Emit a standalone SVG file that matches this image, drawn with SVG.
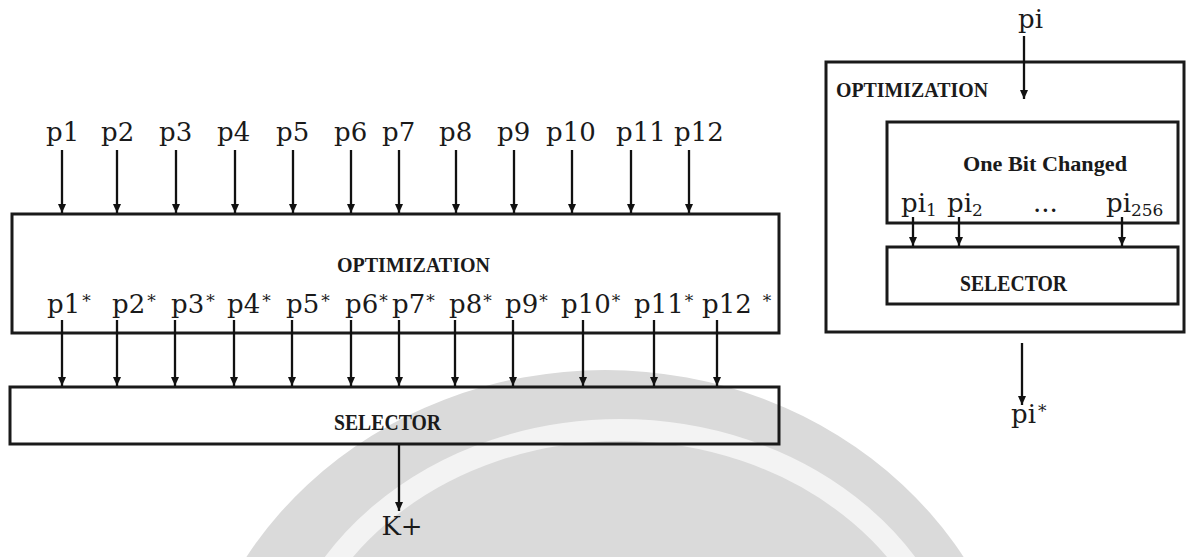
<svg xmlns="http://www.w3.org/2000/svg" width="1187" height="557" viewBox="0 0 1187 557">
<style>
.box{fill:none;stroke:#1a1a1a;stroke-width:3}
.ar{stroke:#111;stroke-width:2.3;fill:none;marker-end:url(#ah)}
.lbl{font-family:"DejaVu Serif",serif;font-size:26px;fill:#1a1a1a}
.cap{font-family:"Liberation Serif",serif;font-weight:bold;fill:#1a1a1a}
.st{font-size:17px}
.sub{font-size:17px}
</style>
<defs>
<marker id="ah" markerUnits="userSpaceOnUse" markerWidth="10" markerHeight="10" viewBox="0 0 10 10" refX="9" refY="5" orient="auto">
<path d="M0,1 L9,5 L0,9 Z" fill="#111"/>
</marker>
</defs>
<rect width="1187" height="557" fill="#fff"/>
<g id="watermark">
<ellipse cx="605" cy="760" rx="420" ry="390" fill="#dadada"/>
<ellipse cx="620" cy="720" rx="340" ry="290" fill="none" stroke="#f3f3f3" stroke-width="22"/>
<ellipse cx="650" cy="620" rx="90" ry="55" fill="none" stroke="#ebebeb" stroke-width="10"/>
</g>
<g id="left-optimization">
<rect class="box" x="12" y="214" width="767" height="119"/>
<text class="cap" x="337" y="272" font-size="22" textLength="153" lengthAdjust="spacingAndGlyphs">OPTIMIZATION</text>
<text class="lbl" x="47" y="313">p1<tspan class="st" dy="-6" dx="2">*</tspan></text>
<text class="lbl" x="112" y="313">p2<tspan class="st" dy="-6" dx="2">*</tspan></text>
<text class="lbl" x="171" y="313">p3<tspan class="st" dy="-6" dx="2">*</tspan></text>
<text class="lbl" x="227" y="313">p4<tspan class="st" dy="-6" dx="2">*</tspan></text>
<text class="lbl" x="286" y="313">p5<tspan class="st" dy="-6" dx="2">*</tspan></text>
<text class="lbl" x="345" y="313">p6<tspan class="st" dy="-6" dx="1">*</tspan></text>
<text class="lbl" x="392" y="313">p7<tspan class="st" dy="-6" dx="1">*</tspan></text>
<text class="lbl" x="449" y="313">p8<tspan class="st" dy="-6" dx="1">*</tspan></text>
<text class="lbl" x="505" y="313">p9<tspan class="st" dy="-6" dx="1">*</tspan></text>
<text class="lbl" x="561" y="313">p10<tspan class="st" dy="-6" dx="1">*</tspan></text>
<text class="lbl" x="634" y="313">p11<tspan class="st" dy="-6" dx="1">*</tspan></text>
<text class="lbl" x="702" y="313">p12<tspan class="st" dy="-6" dx="11">*</tspan></text>
</g>
<g id="left-selector">
<rect class="box" x="10" y="387" width="769" height="57"/>
<text class="cap" x="334" y="430" font-size="24" textLength="107" lengthAdjust="spacingAndGlyphs">SELECTOR</text>
</g>
<g id="inputs">
<text class="lbl" x="46" y="141">p1</text>
<text class="lbl" x="101" y="141">p2</text>
<text class="lbl" x="159" y="141">p3</text>
<text class="lbl" x="217" y="141">p4</text>
<text class="lbl" x="276" y="141">p5</text>
<text class="lbl" x="334" y="141">p6</text>
<text class="lbl" x="382" y="141">p7</text>
<text class="lbl" x="439" y="141">p8</text>
<text class="lbl" x="497" y="141">p9</text>
<text class="lbl" x="546" y="141">p10</text>
<text class="lbl" x="616" y="141">p11</text>
<text class="lbl" x="674" y="141">p12</text>
</g>
<g id="output-k">
<text class="lbl" x="402" y="535" text-anchor="middle">K+</text>
</g>
<g id="right-optimization">
<rect class="box" x="826" y="62" width="358" height="270"/>
<text class="cap" x="836" y="97" font-size="22" textLength="152" lengthAdjust="spacingAndGlyphs">OPTIMIZATION</text>
</g>
<g id="one-bit-changed">
<rect class="box" x="887" y="122" width="291" height="101"/>
<text class="cap" x="963" y="171" font-size="21" textLength="164" lengthAdjust="spacingAndGlyphs">One Bit Changed</text>
<text class="lbl" x="901" y="212">pi<tspan class="sub" dy="4">1</tspan></text>
<text class="lbl" x="947" y="212">pi<tspan class="sub" dy="4">2</tspan></text>
<text class="lbl" x="1033" y="212" font-size="18">...</text>
<text class="lbl" x="1106" y="212">pi<tspan class="sub" dy="4">256</tspan></text>
</g>
<g id="right-selector">
<rect class="box" x="887" y="247" width="291" height="57"/>
<text class="cap" x="960" y="291" font-size="24" textLength="107" lengthAdjust="spacingAndGlyphs">SELECTOR</text>
</g>
<g id="right-io">
<text class="lbl" x="1018" y="28">pi</text>
<text class="lbl" x="1011" y="423">pi<tspan class="st" dy="-6" dx="2">*</tspan></text>
</g>
<g id="connectors">
<line class="ar" x1="62" y1="150" x2="62" y2="213"/>
<line class="ar" x1="117" y1="150" x2="117" y2="213"/>
<line class="ar" x1="176" y1="150" x2="176" y2="213"/>
<line class="ar" x1="235" y1="150" x2="235" y2="213"/>
<line class="ar" x1="293" y1="150" x2="293" y2="213"/>
<line class="ar" x1="351" y1="150" x2="351" y2="213"/>
<line class="ar" x1="399" y1="150" x2="399" y2="213"/>
<line class="ar" x1="456" y1="150" x2="456" y2="213"/>
<line class="ar" x1="514" y1="150" x2="514" y2="213"/>
<line class="ar" x1="572" y1="150" x2="572" y2="213"/>
<line class="ar" x1="631" y1="150" x2="631" y2="213"/>
<line class="ar" x1="689" y1="150" x2="689" y2="213"/>
<line class="ar" x1="62" y1="320" x2="62" y2="386"/>
<line class="ar" x1="117" y1="320" x2="117" y2="386"/>
<line class="ar" x1="175" y1="320" x2="175" y2="386"/>
<line class="ar" x1="234" y1="320" x2="234" y2="386"/>
<line class="ar" x1="292" y1="320" x2="292" y2="386"/>
<line class="ar" x1="351" y1="320" x2="351" y2="386"/>
<line class="ar" x1="399" y1="320" x2="399" y2="386"/>
<line class="ar" x1="455" y1="320" x2="455" y2="386"/>
<line class="ar" x1="513" y1="320" x2="513" y2="386"/>
<line class="ar" x1="583" y1="320" x2="583" y2="386"/>
<line class="ar" x1="654" y1="320" x2="654" y2="386"/>
<line class="ar" x1="717" y1="320" x2="717" y2="386"/>
<line class="ar" x1="399" y1="445" x2="399" y2="511"/>
<line class="ar" x1="1024" y1="36" x2="1024" y2="99"/>
<line class="ar" x1="913" y1="217" x2="913" y2="246"/>
<line class="ar" x1="959" y1="217" x2="959" y2="246"/>
<line class="ar" x1="1122" y1="217" x2="1122" y2="246"/>
<line class="ar" x1="1022" y1="343" x2="1022" y2="405"/>
</g>
</svg>
